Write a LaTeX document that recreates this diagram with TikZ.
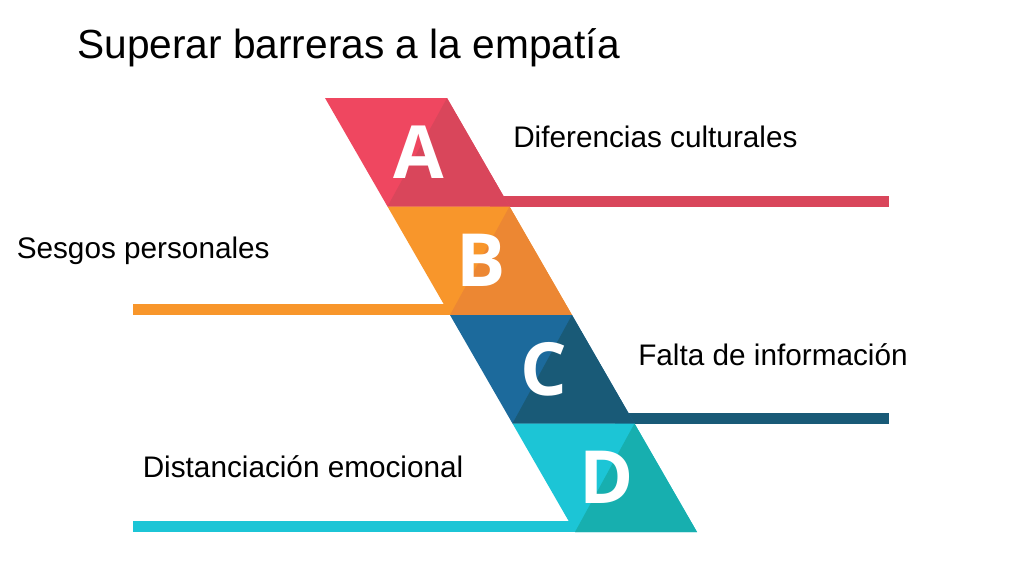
\documentclass[tikz,border=0pt]{standalone}
\usepackage{fontspec}
\setmainfont{Liberation Sans}
\newfontfamily\letterfont{Open Sans}
\usetikzlibrary{calc}

\definecolor{segAlight}{HTML}{EF4760}
\definecolor{segAdark}{HTML}{D9465B}
\definecolor{segBlight}{HTML}{F8962B}
\definecolor{segBdark}{HTML}{EC8733}
\definecolor{segClight}{HTML}{1C6A9C}
\definecolor{segCdark}{HTML}{195A77}
\definecolor{segDlight}{HTML}{1CC5D6}
\definecolor{segDdark}{HTML}{17AFAF}

\begin{document}
\begin{tikzpicture}[x=0.75pt, y=-0.75pt, >=stealth]

    \tikzset{%
    seg letter/.style={
        inner sep=0pt,
        text=white,
        font=\letterfont\bfseries\fontsize{55}{60}\selectfont
        },
    barrier text/.style={
        anchor=base west,
        inner sep=0pt,
        font=\fontsize{22.3}{26}\selectfont
        },
    title text/.style={
        anchor=base west,
        inner sep=0pt,
        font=\fontsize{30.5}{36}\selectfont
        },
    }

    % Page
    \fill[white] (0,0) rectangle (1024,576);
    \useasboundingbox (0,0) rectangle (1024,576);

    % Corners of the four slanted segments
    \foreach \l [count=\i from 0] in {A,B,C,D}
    {
    \coordinate (tl-\l) at (325+62.5*\i, 98+108.5*\i);
    \coordinate (tr-\l) at (447+62.5*\i, 98+108.5*\i);
    \coordinate (br-\l) at (509.5+62.5*\i, 206.5+108.5*\i);
    \coordinate (bl-\l) at (387.5+62.5*\i, 206.5+108.5*\i);
    }

    % Bars to the right
    \foreach \l/\c in {A/segAdark, C/segCdark}
    \fill[\c] ($(br-\l)+(-20,-11)$) rectangle (889,0 |- br-\l);

    % Bars to the left
    \foreach \l/\c in {B/segBlight, D/segDlight}
    \fill[\c] ($(133,0 |- bl-\l)+(0,-11)$) rectangle ($(bl-\l)+(15,0)$);

    % Segments and their letters
    \foreach \l/\lc/\dc in {A/segAlight/segAdark, B/segBlight/segBdark,
                            C/segClight/segCdark, D/segDlight/segDdark}
    {
    \fill[\lc] (tl-\l) -- (tr-\l) -- (br-\l) -- (bl-\l) -- cycle;
    \fill[\dc] (tr-\l) -- (br-\l) -- (bl-\l) -- cycle;
    \node[seg letter] (letter-\l) at ($(tl-\l)!0.5!(br-\l)+(1.5,0)$) {\l};
    }

    % Title and labels
    \node[title text] (title) at (77,58.3) {Superar barreras a la empatía};
    \node[barrier text] (text-A) at (513,147.3) {Diferencias culturales};
    \node[barrier text] (text-B) at (16.5,258.7) {Sesgos personales};
    \node[barrier text] (text-C) at (638,365.7) {Falta de información};
    \node[barrier text] (text-D) at (142.5,477.3) {Distanciación emocional};

\end{tikzpicture}
\end{document}
